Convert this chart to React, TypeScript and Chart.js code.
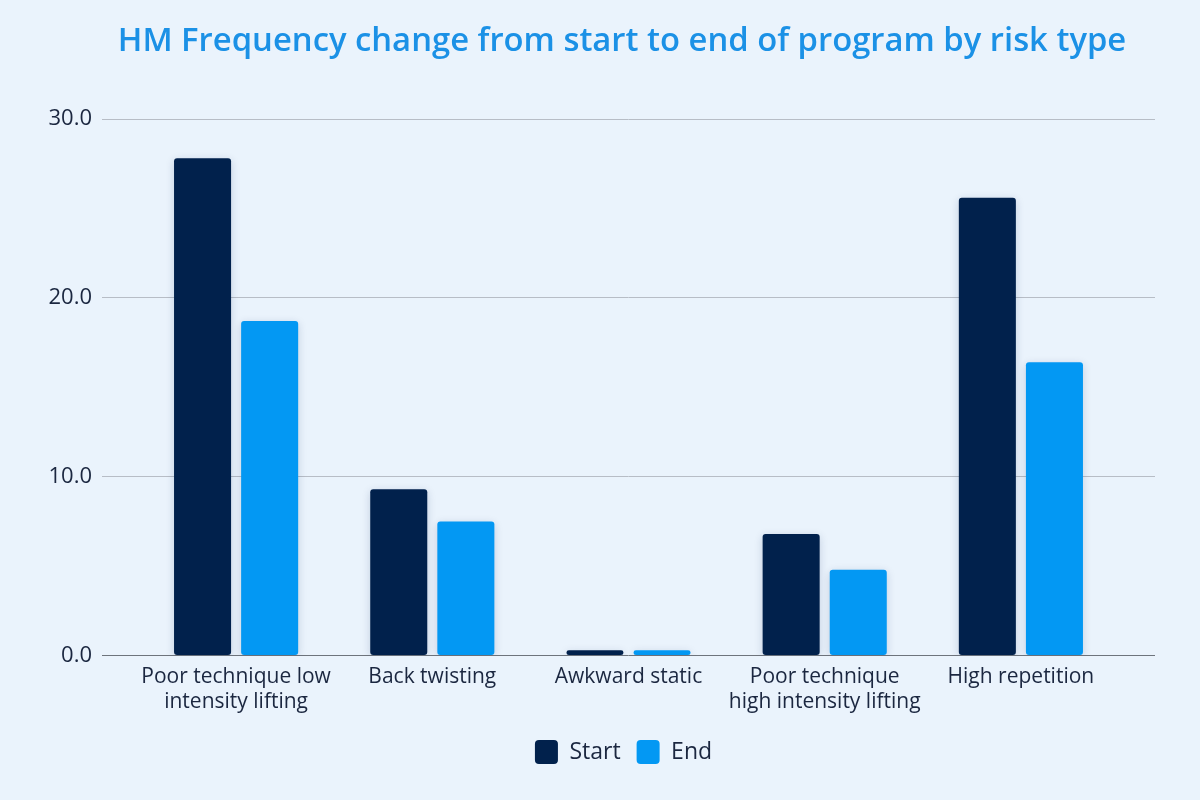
import React, { useEffect, useRef } from "react";
import { Chart, registerables } from "chart.js";

Chart.register(...registerables);

const categories: (string | string[])[] = [
  ["Poor technique low", "intensity lifting"],
  "Back twisting",
  "Awkward static",
  ["Poor technique", "high intensity lifting"],
  "High repetition",
];
const startValues = [27.8, 9.3, 0.3, 6.8, 25.6];
const endValues = [18.7, 7.5, 0.3, 4.8, 16.4];
const seriesNames = ["Start", "End"];
const yMin = 0;
const yMax = 30;
const yStep = 10;
const titleText = "HM Frequency change from start to end of program by risk type";

const NAVY = "#01214C";
const BLUE = "#0398F3";
const BG = "#EAF3FC";
const TEXT = "#1B2740";
const FONT = '"Open Sans", "Noto Sans", sans-serif';

const titlePlugin = {
  id: "centerTitle",
  afterDraw(chart: any) {
    const { ctx } = chart;
    ctx.save();
    ctx.font = `600 32.8px ${FONT}`;
    ctx.fillStyle = "#1B91E6";
    ctx.textAlign = "center";
    ctx.textBaseline = "middle";
    ctx.fillText(titleText, 622, 42);
    ctx.restore();
  },
};

// let the left axis labels extend into the padding area (avoid label clipping)
const widenAxisPlugin = {
  id: "widenAxis",
  afterLayout(chart: any) {
    const y = chart.scales.y;
    if (y) y.left = 0;
  },
};

const shadowPlugin = {
  id: "barShadow",
  beforeDatasetsDraw(chart: any) {
    const ctx = chart.ctx;
    ctx.save();
    ctx.shadowColor = "rgba(0, 40, 90, 0.18)";
    ctx.shadowBlur = 8;
    ctx.shadowOffsetX = 0;
    ctx.shadowOffsetY = 2;
  },
  afterDatasetsDraw(chart: any) {
    chart.ctx.restore();
  },
};

export default function App() {
  const canvasRef = useRef<HTMLCanvasElement | null>(null);

  useEffect(() => {
    document.body.style.margin = "0";
    const canvas = canvasRef.current;
    if (!canvas) return;
    const chart = new Chart(canvas, {
      type: "bar",
      data: {
        labels: categories,
        datasets: [
          {
            label: seriesNames[0],
            data: startValues,
            backgroundColor: NAVY,
            borderRadius: 3,
            borderSkipped: false,
            categoryPercentage: 0.684,
            barPercentage: 0.85,
            yAxisID: "y",
          },
          {
            label: seriesNames[1],
            data: endValues,
            backgroundColor: BLUE,
            borderRadius: 3,
            borderSkipped: false,
            categoryPercentage: 0.684,
            barPercentage: 0.85,
            yAxisID: "y",
          },
        ],
      },
      options: {
        animation: false,
        responsive: true,
        maintainAspectRatio: false,
        layout: { padding: { top: 119, left: 92, right: 45, bottom: 26 } },
        plugins: {
          title: { display: false },
          tooltip: { enabled: false },
          legend: {
            position: "bottom",
            labels: {
              boxWidth: 23,
              boxHeight: 24,
              useBorderRadius: true,
              borderRadius: 4,
              padding: 16,
              color: TEXT,
              font: { family: FONT, size: 23 },
            },
          },
        },
        scales: {
          x: {
            grid: { display: false, drawTicks: false },
            border: { display: false },
            ticks: {
              color: TEXT,
              padding: 9,
              maxRotation: 0,
              autoSkip: false,
              font: { family: FONT, size: 21, lineHeight: 1.2 },
            },
          },
          y: {
            min: yMin,
            max: yMax,
            position: "left",
            border: { display: false },
            afterFit: (scale: any) => {
              scale.width = 46;
            },
            grid: {
              color: (c: any) => (c.tick && c.tick.value === 0 ? "#6E747C" : "#B7BDC6"),
              lineWidth: 1,
              tickLength: 36,
              drawTicks: true,
            },
            ticks: {
              stepSize: yStep,
              color: TEXT,
              padding: 10,
              font: { family: FONT, size: 22 },
              callback: (v: any) => Number(v).toFixed(1),
            },
          },
          y2: {
            min: yMin,
            max: yMax,
            position: "right",
            border: { display: false },
            grid: {
              drawOnChartArea: false,
              color: (c: any) => (c.tick && c.tick.value === 0 ? "#6E747C" : "#B7BDC6"),
              lineWidth: 1,
              tickLength: 36,
              drawTicks: true,
            },
            ticks: { display: false, stepSize: yStep },
          },
        },
      },
      plugins: [titlePlugin, widenAxisPlugin, shadowPlugin],
    });
    return () => chart.destroy();
  }, []);

  return (
    <div
      style={{
        position: "fixed",
        left: 0,
        top: 0,
        width: 1200,
        height: 800,
        background: BG,
      }}
    >
      <canvas ref={canvasRef} width={1200} height={800} />
    </div>
  );
}
